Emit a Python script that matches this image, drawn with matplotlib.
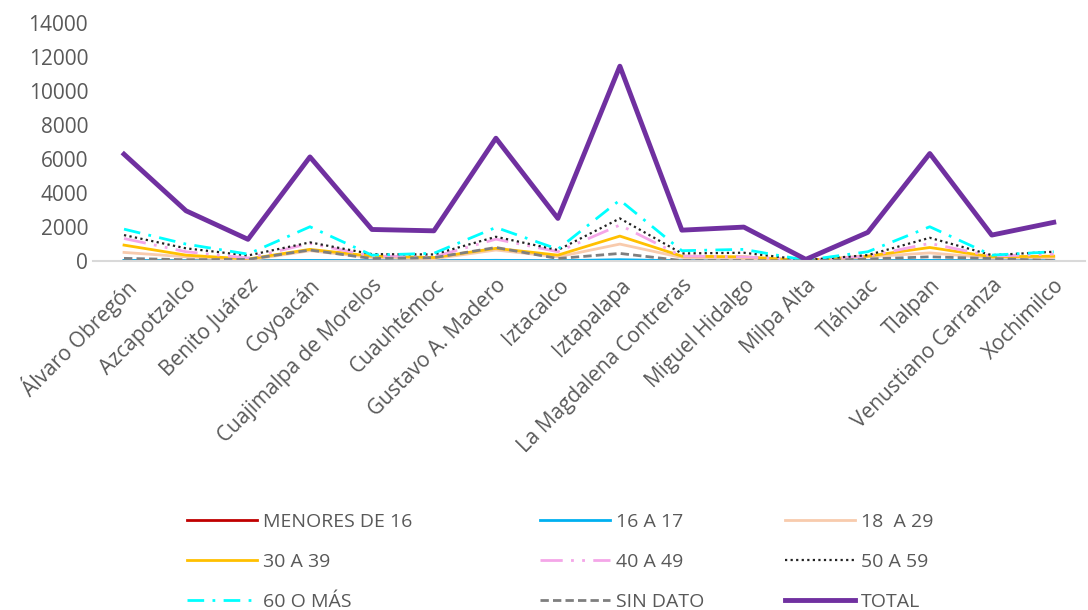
import matplotlib.pyplot as plt

plt.rcParams['font.family'] = ['Open Sans', 'DejaVu Sans']

alcaldias = ['Álvaro Obregón', 'Azcapotzalco', 'Benito Juárez', 'Coyoacán',
             'Cuajimalpa de Morelos', 'Cuauhtémoc', 'Gustavo A. Madero', 'Iztacalco',
             'Iztapalapa', 'La Magdalena Contreras', 'Miguel Hidalgo', 'Milpa Alta',
             'Tláhuac', 'Tlalpan', 'Venustiano Carranza', 'Xochimilco']

menores_16 = [5, 3, 2, 5, 2, 2, 6, 3, 10, 2, 2, 1, 3, 5, 2, 3]
de_16_17 = [40, 20, 10, 40, 15, 15, 45, 20, 80, 15, 15, 5, 20, 40, 15, 20]
de_18_29 = [510, 250, 60, 610, 210, 140, 650, 250, 1000, 210, 150, 20, 250, 480, 180, 210]
de_30_39 = [940, 350, 120, 690, 290, 210, 750, 350, 1470, 290, 250, 40, 290, 800, 250, 290]
de_40_49 = [1330, 550, 180, 1040, 290, 250, 1290, 550, 2120, 290, 250, 50, 290, 1040, 290, 410]
de_50_59 = [1530, 750, 330, 1100, 410, 390, 1430, 650, 2510, 450, 490, 60, 350, 1370, 350, 550]
de_60_mas = [1880, 1000, 410, 2020, 350, 460, 1980, 700, 3590, 610, 690, 50, 550, 2020, 350, 550]
sin_dato = [160, 80, 100, 650, 150, 200, 800, 150, 450, 30, 30, 10, 120, 250, 150, 30]
total = [6290, 2960, 1280, 6130, 1860, 1780, 7230, 2510, 11470, 1820, 2000, 100, 1690, 6330, 1530, 2280]

gris = '#595959'

fig = plt.figure(figsize=(10.88, 6.10), dpi=100)
ax = fig.add_axes([0.0855, 0.572, 0.9115, 0.39])

x = range(len(alcaldias))
l1, = ax.plot(x, menores_16, color='#C00000', lw=2)
l2, = ax.plot(x, de_16_17, color='#00B0F0', lw=2)
l3, = ax.plot(x, de_18_29, color='#F8CBAD', lw=2)
l4, = ax.plot(x, de_30_39, color='#FFC000', lw=2)
l5, = ax.plot(x, de_40_49, color='#F4A6E8', lw=2, dashes=(8, 3, 1, 3, 1, 3))
l6, = ax.plot(x, de_50_59, color='#222222', lw=1.6, linestyle=(0, (1, 1.5)))
l7, = ax.plot(x, de_60_mas, color='#00FFFF', lw=2, dashes=(6, 3, 1, 3))
l8, = ax.plot(x, sin_dato, color='#7F7F7F', lw=2, dashes=(3, 1.5))
l9, = ax.plot(x, total, color='#7030A0', lw=3.5)

ax.set_xlim(-0.5, len(alcaldias) - 0.5)
ax.set_ylim(0, 14000)
ax.set_yticks(range(0, 14001, 2000))
ax.set_xticks(list(x))
ax.set_xticklabels(alcaldias, rotation=45, ha='right', rotation_mode='anchor')
ax.tick_params(axis='both', length=0, labelsize=15, colors=gris)
ax.tick_params(axis='x', pad=10)
for s in ['top', 'right', 'left']:
    ax.spines[s].set_visible(False)
ax.spines['bottom'].set_color('#D9D9D9')
ax.spines['bottom'].set_linewidth(1.5)

columnas = [
    ([l1, l4, l7], ['MENORES DE 16', '30 A 39', '60 O MÁS'], 187),
    ([l2, l5, l8], ['16 A 17', '40 A 49', 'SIN DATO'], 540),
    ([l3, l6, l9], ['18  A 29', '50 A 59', 'TOTAL'], 785),
]
for handles, labels, px in columnas:
    leg = fig.legend(handles, labels, loc='upper left',
                     bbox_to_anchor=(px / 1088, 1 - 513 / 610),
                     frameon=False, fontsize=14, handlelength=3.6,
                     handletextpad=0.3, labelspacing=1.12, borderpad=0,
                     borderaxespad=0)
    for t in leg.get_texts():
        t.set_color(gris)

fig.savefig('out.png', dpi=100)
